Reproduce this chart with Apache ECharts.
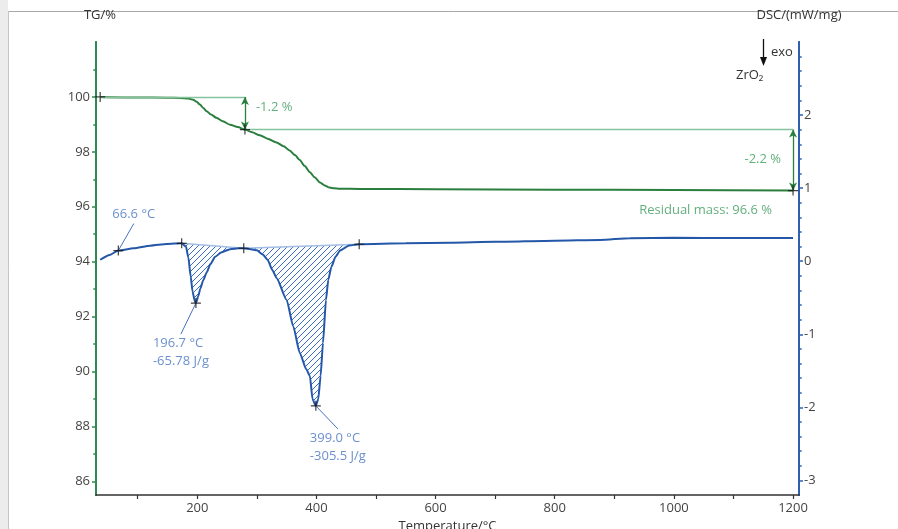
<!DOCTYPE html>
<html><head><meta charset="utf-8">
<script src="https://cdn.jsdelivr.net/npm/echarts@6/dist/echarts.min.js"></script>
<style>html,body{margin:0;padding:0;background:#fff}#c{width:898px;height:529px}</style>
</head><body><div id="c"></div>
<script>
// ---- data ----
const tgTemp  = [37, 100, 150, 171, 185, 193, 199, 204.5, 210, 215.7, 223, 232, 243, 255, 268, 280, 292, 305, 318, 333, 345, 355, 364, 372, 380, 389, 397, 406, 414, 422, 430, 439, 473, 600, 800, 1000, 1200];
const tgValue = [100.0, 99.98, 99.97, 99.96, 99.94, 99.9, 99.82, 99.72, 99.6, 99.48, 99.36, 99.24, 99.11, 98.99, 98.9, 98.81, 98.71, 98.6, 98.48, 98.34, 98.2, 98.05, 97.88, 97.7, 97.49, 97.26, 97.07, 96.88, 96.77, 96.7, 96.67, 96.655, 96.65, 96.64, 96.62, 96.61, 96.59];

const dscTemp  = [37, 53, 67.5, 93, 121, 149, 173.8, 181, 185, 189, 192, 196, 197.7, 201.6, 205, 210, 216, 222, 230, 240, 255, 270, 278, 290, 300, 310, 318, 326, 333, 350, 361, 372, 383, 389, 393.5, 399, 403, 407, 411, 416, 420, 425, 432, 440, 455, 471.8, 550, 624, 700, 800, 876, 926, 1000, 1100, 1200];
const dscValue = [0.02, 0.086, 0.145, 0.177, 0.213, 0.236, 0.245, 0.2, 0.05, -0.21, -0.415, -0.55, -0.573, -0.48, -0.38, -0.26, -0.15, -0.04, 0.06, 0.12, 0.165, 0.178, 0.177, 0.165, 0.15, 0.09, 0.02, -0.12, -0.23, -0.53, -0.89, -1.255, -1.48, -1.57, -1.89, -1.98, -1.89, -1.57, -1.12, -0.53, -0.25, -0.08, 0.06, 0.15, 0.215, 0.232, 0.245, 0.254, 0.265, 0.28, 0.29, 0.315, 0.32, 0.318, 0.317];

const tgMarkers  = [[37, 100], [280, 98.81], [1200, 96.59]];
const dscMarkers = [[67.5, 0.145], [173.8, 0.245], [197.7, -0.573], [278, 0.177], [399, -1.98], [471.8, 0.232]];

const tgStepLevels = [100, 98.81, 96.59];      // mass levels
const tgStepTemps  = [37, 280, 1200];           // temperatures of the step marks
const tgNoteText   = ['-1.2 %', '-2.2 %', 'Residual mass: 96.6 %'];

const peakRanges   = [[173.8, 278], [278, 471.8]];
const dscNoteAt    = [[67.5, 0.145], [197.7, -0.573], [399, -1.98]];
const dscNoteText  = ['66.6 °C', '196.7 °C\n-65.78 J/g', '399.0 °C\n-305.5 J/g'];

const xTickValues  = [100, 200, 300, 400, 500, 600, 700, 800, 900, 1000, 1100, 1200];
const xLabelValues = [200, 400, 600, 800, 1000, 1200];
const tgLabelValues = [86, 88, 90, 92, 94, 96, 98, 100];
const tgMinorValues = [87, 89, 91, 93, 95, 97, 99, 101];
const dscLabelValues = [-3, -2, -1, 0, 1, 2];
const dscMinorValues = [-2.8, -2.6, -2.4, -2.2, -1.8, -1.6, -1.4, -1.2, -0.8, -0.6, -0.4, -0.2, 0.2, 0.4, 0.6, 0.8, 1.2, 1.4, 1.6, 1.8, 2.2, 2.4, 2.6, 2.8];

// ---- styles ----
const FONT = 'Open Sans';
const FS = 13;
const GREEN = '#2a7f3e', GREEN_AX = '#2e8b4f', GREEN_LT = '#86c39c', GREEN_TX = '#3b9a5c';
const BLUE = '#2457a8', BLUE_AX = '#2f60b0', BLUE_LT = '#a3bde4', BLUE_TX = '#4673c2', HATCH = '#3a6cc6';
const HATCH_STEP = 6;

const tgData = tgTemp.map((t, i) => [t, tgValue[i]]);
const dscData = dscTemp.map((t, i) => [t, dscValue[i]]);
const plus = 'path://M4.4,0H5.6V4.4H10V5.6H5.6V10H4.4V5.6H0V4.4H4.4Z';

// diagonal hatch segments (x + y = c) clipped to a pixel polygon
function hatchSegments(poly) {
  const segs = [];
  const sums = poly.map(p => p[0] + p[1]);
  const cMin = Math.ceil(Math.min(...sums) / HATCH_STEP) * HATCH_STEP;
  const cMax = Math.max(...sums);
  for (let c = cMin; c <= cMax; c += HATCH_STEP) {
    const xs = [];
    for (let i = 0; i < poly.length; i++) {
      const a = poly[i], b = poly[(i + 1) % poly.length];
      const fa = a[0] + a[1] - c, fb = b[0] + b[1] - c;
      if ((fa < 0 && fb >= 0) || (fa >= 0 && fb < 0)) {
        const t = fa / (fa - fb);
        xs.push(a[0] + t * (b[0] - a[0]));
      }
    }
    xs.sort((m, n) => m - n);
    for (let k = 0; k + 1 < xs.length; k += 2) segs.push([xs[k], c - xs[k], xs[k + 1], c - xs[k + 1]]);
  }
  return segs;
}

const baseGraphic = [
  { type: 'rect', shape: { x: 0, y: 0, width: 8, height: 529 }, style: { fill: '#ececec' }, z: -10 },
  { type: 'line', shape: { x1: 8.5, y1: 11.5, x2: 8.5, y2: 529 }, style: { stroke: '#c4c4c4', lineWidth: 1 }, z: -10 },
  { type: 'line', shape: { x1: 8.5, y1: 11.5, x2: 898, y2: 11.5 }, style: { stroke: '#a8a8a8', lineWidth: 1 }, z: -10 },
  { type: 'line', shape: { x1: 763.5, y1: 39, x2: 763.5, y2: 60 }, style: { stroke: '#111', lineWidth: 1.3 } },
  { type: 'polygon', shape: { points: [[760, 57], [767, 57], [763.5, 66]] }, style: { fill: '#111' } },
  { type: 'text', left: 771, top: 46, style: { text: 'exo', font: FS + 'px "Open Sans"', fill: '#333' } },
  { type: 'text', left: 736, top: 69, style: { text: 'ZrO₂', font: FS + 'px "Open Sans"', fill: '#333' } }
];

const tickLen = 4, minorLen = 2.7;
const chart = echarts.init(document.getElementById('c'), null, { renderer: 'canvas' });
chart.setOption({
  animation: false,
  backgroundColor: '#fff',
  textStyle: { fontFamily: FONT },
  grid: { left: 96, right: 99, top: 42, bottom: 34, containLabel: false, outerBoundsMode: 'none' },
  graphic: baseGraphic,
  xAxis: {
    type: 'value', min: 30, max: 1210,
    name: 'Temperature/°C', nameLocation: 'middle', nameGap: 21,
    nameTextStyle: { fontSize: FS, color: '#333', fontFamily: FONT },
    axisLine: { show: true, onZero: false, lineStyle: { color: '#333', width: 1.6 } },
    axisTick: { show: true, customValues: xTickValues, length: tickLen, lineStyle: { color: '#333', width: 1.2 } },
    axisLabel: { customValues: xLabelValues, margin: 7, fontSize: FS, color: '#444', fontFamily: FONT, formatter: v => String(v) },
    splitLine: { show: false }
  },
  yAxis: [
    { // TG
      type: 'value', position: 'left', min: 85.5, max: 102,
      name: 'TG/%', nameLocation: 'end', nameGap: 20,
      nameTextStyle: { fontSize: FS, color: '#333', align: 'center', padding: [0, 0, 0, 8] },
      axisLine: { show: true, lineStyle: { color: GREEN_AX, width: 2 } },
      axisTick: { show: true, customValues: tgLabelValues, length: tickLen, lineStyle: { color: GREEN_AX, width: 1.5 } },
      axisLabel: { customValues: tgLabelValues, margin: 6, fontSize: FS, color: '#444' },
      splitLine: { show: false }
    },
    { // TG minor ticks
      type: 'value', position: 'left', min: 85.5, max: 102,
      axisLine: { show: true, lineStyle: { color: GREEN_AX, width: 2 } },
      axisTick: { show: true, customValues: tgMinorValues, length: minorLen, lineStyle: { color: GREEN_AX, width: 1.5 } },
      axisLabel: { show: false }, splitLine: { show: false }
    },
    { // DSC
      type: 'value', position: 'right', min: -3.2, max: 3,
      name: 'DSC/(mW/mg)', nameLocation: 'end', nameGap: 20,
      nameTextStyle: { fontSize: FS, color: '#333', align: 'center' },
      axisLine: { show: true, lineStyle: { color: BLUE_AX, width: 2 } },
      axisTick: { show: true, customValues: dscLabelValues, length: tickLen, lineStyle: { color: BLUE_AX, width: 1.5 } },
      axisLabel: { customValues: dscLabelValues, margin: 5, fontSize: FS, color: '#444' },
      splitLine: { show: false }
    },
    { // DSC minor ticks
      type: 'value', position: 'right', min: -3.2, max: 3,
      axisLine: { show: true, lineStyle: { color: BLUE_AX, width: 2 } },
      axisTick: { show: true, customValues: dscMinorValues, length: minorLen, lineStyle: { color: BLUE_AX, width: 1.5 } },
      axisLabel: { show: false }, splitLine: { show: false }
    }
  ],
  series: [
    {
      type: 'line', name: 'DSC', xAxisIndex: 0, yAxisIndex: 2, data: dscData,
      showSymbol: false, smooth: 0.2, smoothMonotone: 'x', z: 3,
      lineStyle: { color: BLUE, width: 2 }
    },
    {
      type: 'line', name: 'TG', xAxisIndex: 0, yAxisIndex: 0, data: tgData,
      showSymbol: false, smooth: 0.25, smoothMonotone: 'x', z: 3,
      lineStyle: { color: GREEN, width: 2 },
      markLine: {
        silent: true, symbol: 'none', precision: 3,
        label: { show: false },
        data: [
          [{ coord: [tgStepTemps[0], tgStepLevels[0]], lineStyle: { color: GREEN_LT, width: 1.3, type: 'solid' } }, { coord: [tgStepTemps[1], tgStepLevels[0]] }],
          [{ coord: [tgStepTemps[1], tgStepLevels[1]], lineStyle: { color: GREEN_LT, width: 1.3, type: 'solid' } }, { coord: [tgStepTemps[2], tgStepLevels[1]] }],
          [{ coord: [tgStepTemps[1], tgStepLevels[0]], symbol: 'arrow', symbolSize: [6, 8], lineStyle: { color: GREEN, width: 1.3, type: 'solid' } }, { coord: [tgStepTemps[1], tgStepLevels[1]], symbol: 'arrow', symbolSize: [6, 8] }],
          [{ coord: [tgStepTemps[2], tgStepLevels[1]], symbol: 'arrow', symbolSize: [6, 8], lineStyle: { color: GREEN, width: 1.3, type: 'solid' } }, { coord: [tgStepTemps[2], tgStepLevels[2]], symbol: 'arrow', symbolSize: [6, 8] }]
        ]
      }
    },
    { // TG annotation texts
      type: 'scatter', xAxisIndex: 0, yAxisIndex: 0, symbolSize: 0, silent: true, z: 5,
      data: [
        { value: [tgStepTemps[1], (tgStepLevels[0] + tgStepLevels[1]) / 2], label: { show: true, position: 'right', distance: 11, offset: [0, -6], formatter: tgNoteText[0] } },
        { value: [tgStepTemps[2], (tgStepLevels[1] + tgStepLevels[2]) / 2], label: { show: true, position: 'left', distance: 12, offset: [0, -1], formatter: tgNoteText[1] } },
        { value: [tgStepTemps[2], tgStepLevels[2]], label: { show: true, position: 'left', distance: 21, offset: [0, 20], formatter: tgNoteText[2] } }
      ],
      label: { color: GREEN_TX, fontSize: FS, fontFamily: FONT }
    },
    { // markers
      type: 'scatter', xAxisIndex: 0, yAxisIndex: 0, data: tgMarkers, symbol: plus, symbolSize: 10, z: 6, silent: true,
      itemStyle: { color: '#111' }
    },
    {
      type: 'scatter', xAxisIndex: 0, yAxisIndex: 2, data: dscMarkers, symbol: plus, symbolSize: 10, z: 6, silent: true,
      itemStyle: { color: '#111' }
    },
    { // DSC annotation texts with leader lines
      type: 'scatter', xAxisIndex: 0, yAxisIndex: 2, symbolSize: 2, silent: true, z: 5,
      itemStyle: { color: 'rgba(0,0,0,0)' },
      data: dscNoteAt.map((p, i) => ({ value: p, label: { formatter: dscNoteText[i] } })),
      label: { show: true, position: 'inside', align: 'left', verticalAlign: 'middle', color: BLUE_TX, fontSize: FS, lineHeight: 18, fontFamily: FONT },
      labelLine: { show: true, lineStyle: { color: BLUE_TX, width: 1 } },
      labelLayout: (p) => [{ dx: -6, dy: -36 }, { dx: -43, dy: 49 }, { dx: -6, dy: 41 }][p.dataIndex]
    }
  ]
});

// hatched peak areas: polygons converted to pixels through the chart's own axes
const hatchGraphic = [];
peakRanges.forEach(r => {
  const pts = dscData.filter(p => p[0] >= r[0] && p[0] <= r[1]);
  const poly = pts.map(p => chart.convertToPixel({ xAxisIndex: 0, yAxisIndex: 2 }, p));
  hatchSegments(poly).forEach(s => hatchGraphic.push({
    type: 'line', z: 1, silent: true,
    shape: { x1: s[0], y1: s[1], x2: s[2], y2: s[3] },
    style: { stroke: HATCH, lineWidth: 1 }
  }));
  hatchGraphic.push({ type: 'polyline', z: 1, silent: true,
    shape: { points: [poly[poly.length - 1], poly[0]] },
    style: { stroke: BLUE_LT, lineWidth: 1.4, fill: null } });
});
chart.setOption({ graphic: baseGraphic.concat(hatchGraphic) });
</script></body></html>
